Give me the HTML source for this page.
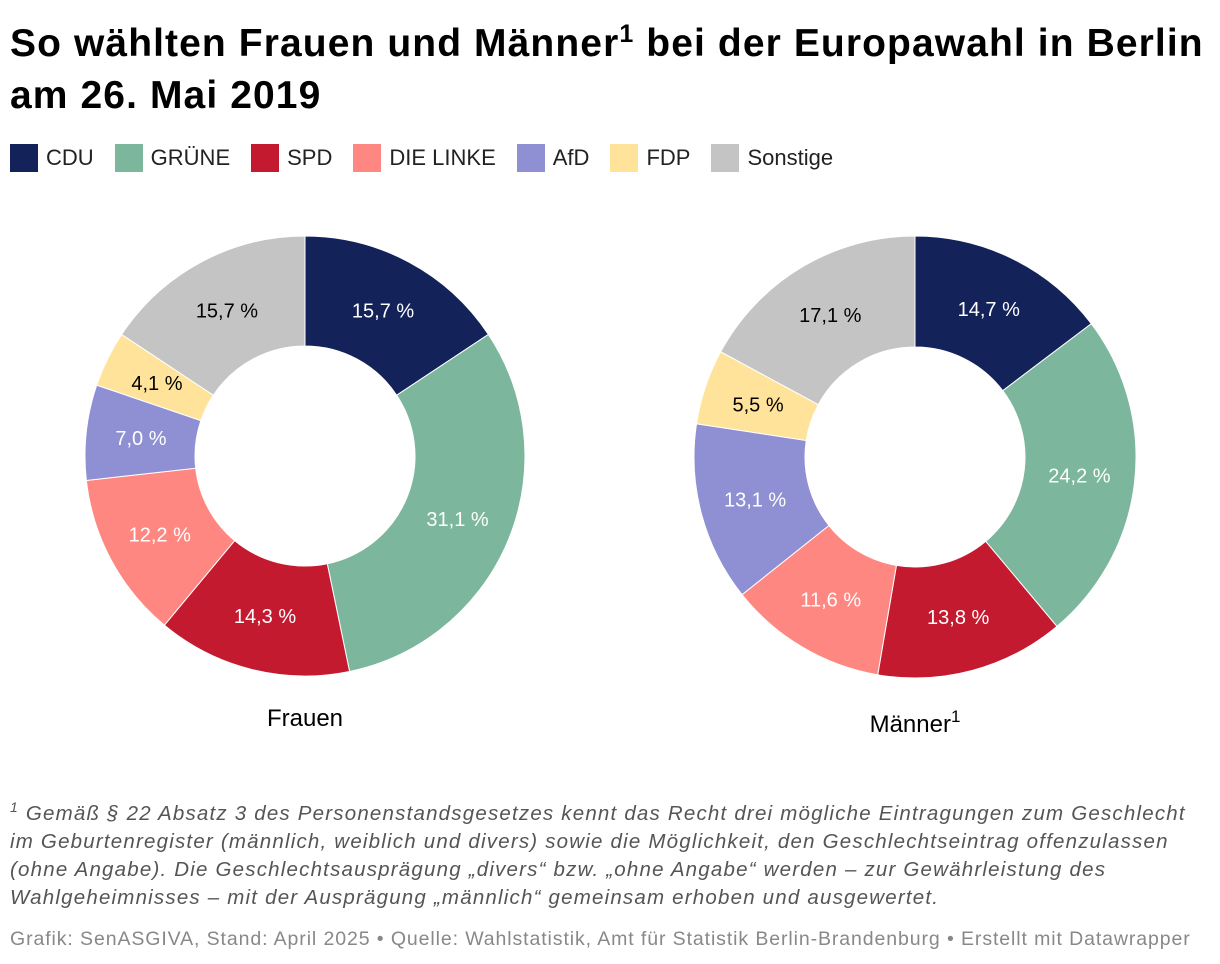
<!DOCTYPE html>
<html><head><meta charset="utf-8">
<style>
body{margin:0;width:1220px;height:964px;background:#fff;font-family:"Liberation Sans",sans-serif;overflow:hidden;position:relative}
#title{position:absolute;left:10px;top:18px;font-size:39px;font-weight:bold;line-height:52px;color:#000;letter-spacing:1.1px;white-space:nowrap}
#title sup{font-size:25px;vertical-align:14px;line-height:0}
#legend{position:absolute;left:10px;top:144px;display:flex;font-size:22px;color:#222;white-space:nowrap}
.li{display:flex;align-items:center;margin-right:21px}
.sw{width:28px;height:28px;margin-right:8px}
#foot{position:absolute;left:10px;top:800px;font-size:20.5px;font-style:italic;color:#555;line-height:28px;letter-spacing:1.2px;white-space:nowrap}
#foot sup{font-size:14px;line-height:0}
#src{position:absolute;left:10px;top:928px;font-size:19.5px;color:#888;letter-spacing:0.9px;white-space:nowrap}
</style></head><body>
<div id="title">So wählten Frauen und Männer<sup>1</sup> bei der Europawahl in Berlin<br>am 26. Mai 2019</div>
<div id="legend"></div>
<svg id="chart" width="1220" height="964" style="position:absolute;left:0;top:0"></svg>
<div id="foot"><sup>1</sup> Gemäß § 22 Absatz 3 des Personenstandsgesetzes kennt das Recht drei mögliche Eintragungen zum Geschlecht<br>im Geburtenregister (männlich, weiblich und divers) sowie die Möglichkeit, den Geschlechtseintrag offenzulassen<br>(ohne Angabe). Die Geschlechtsausprägung „divers“ bzw. „ohne Angabe“ werden – zur Gewährleistung des<br>Wahlgeheimnisses – mit der Ausprägung „männlich“ gemeinsam erhoben und ausgewertet.</div>
<div id="src">Grafik: SenASGIVA, Stand: April 2025 • Quelle: Wahlstatistik, Amt für Statistik Berlin-Brandenburg • Erstellt mit Datawrapper</div>
<script>
const parties=["CDU","GRÜNE","SPD","DIE LINKE","AfD","FDP","Sonstige"];
const colors=["#14225a","#7bb69d","#c41a2f","#ff8781","#8f8fd3","#ffe39a","#c4c4c4"];
const textColors=["#fff","#fff","#fff","#fff","#fff","#000","#000"];
const frauen=[15.7,31.1,14.3,12.2,7.0,4.1,15.7];
const maenner=[14.7,24.2,13.8,11.6,13.1,5.5,17.1];
const NS="http://www.w3.org/2000/svg";
const svg=document.getElementById('chart');
const leg=document.getElementById('legend');
parties.forEach((p,i)=>{
  const d=document.createElement('div');d.className='li';
  
  
  d.innerHTML='<div class="sw" style="background:'+colors[i]+'"></div>'+p;
  leg.appendChild(d);
});
function donut(vals,cx,cy,R,r,name){
  const tot=vals.reduce((a,b)=>a+b,0);
  let a0=0;
  vals.forEach((v,i)=>{
    const a1=a0+v/tot*2*Math.PI;
    const P=(rad,a)=>[cx+rad*Math.sin(a),cy-rad*Math.cos(a)];
    const [x1,y1]=P(R,a0),[x2,y2]=P(R,a1),[x3,y3]=P(r,a1),[x4,y4]=P(r,a0);
    const lg=(a1-a0)>Math.PI?1:0;
    const path=document.createElementNS(NS,'path');
    path.setAttribute('d',`M${x1},${y1}A${R},${R} 0 ${lg} 1 ${x2},${y2}L${x3},${y3}A${r},${r} 0 ${lg} 0 ${x4},${y4}Z`);
    path.setAttribute('fill',colors[i]);path.setAttribute('stroke','#fff');path.setAttribute('stroke-width','1');
    
    
    svg.appendChild(path);
    const am=(a0+a1)/2,[lx,ly]=P((R+r)/2,am);
    const t=document.createElementNS(NS,'text');
    t.setAttribute('x',lx);t.setAttribute('y',ly+7);t.setAttribute('text-anchor','middle');
    t.setAttribute('font-size','20');t.setAttribute('fill',textColors[i]);
    t.setAttribute('font-family','Liberation Sans, sans-serif');
    t.textContent=v.toFixed(1).replace('.',',')+' %';
    
    
    svg.appendChild(t);
    a0=a1;
  });
}
donut(frauen,305,456,220,110,'frauen');
donut(maenner,915,457,221,110,'maenner');
function lbl(x,y,html,name){
  const t=document.createElementNS(NS,'text');
  t.setAttribute('x',x);t.setAttribute('y',y);t.setAttribute('text-anchor','middle');
  t.setAttribute('font-size','24');t.setAttribute('fill','#000');t.setAttribute('font-family','Liberation Sans, sans-serif');
  t.innerHTML=html;
  
  
  svg.appendChild(t);
}
lbl(305,726,'Frauen','frauen-label');
lbl(915,732,'Männer<tspan font-size="17" dy="-10">1</tspan>','maenner-label');
</script>
</body></html>
